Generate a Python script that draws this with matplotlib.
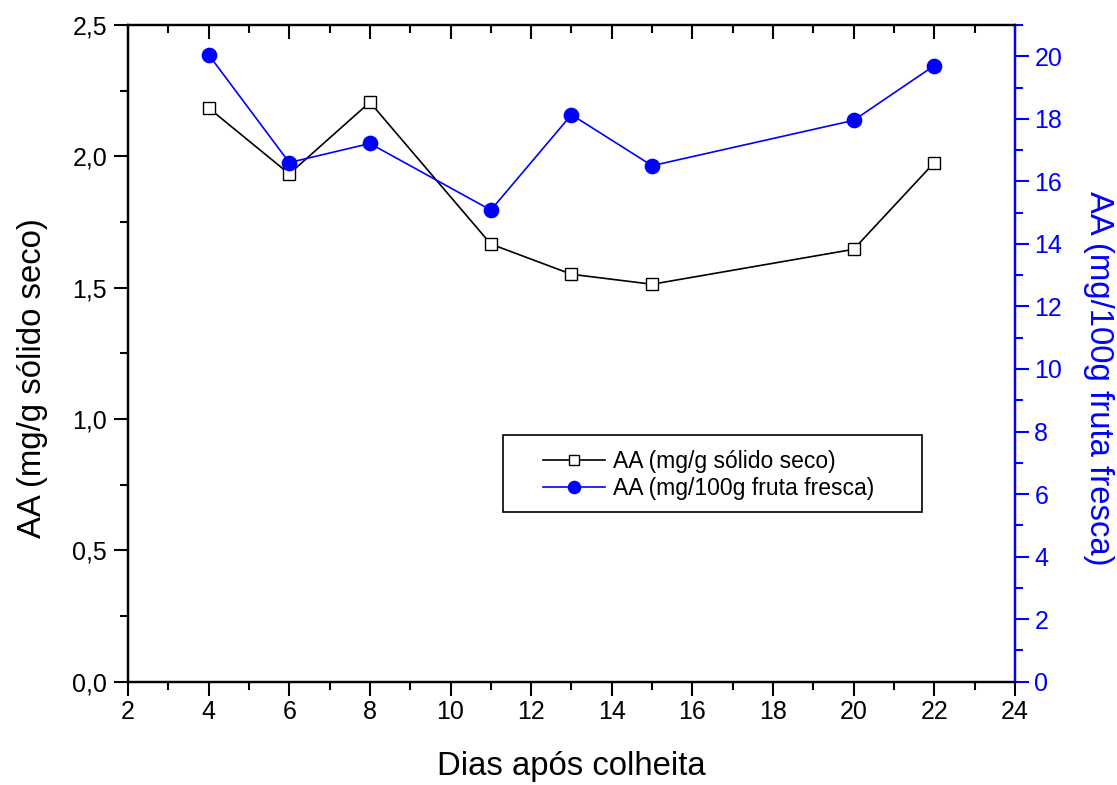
import matplotlib
matplotlib.use("Agg")
from matplotlib import pyplot as plt
from matplotlib.patches import Rectangle
from matplotlib.ticker import MultipleLocator, FuncFormatter

plt.rcParams['font.family'] = ['Liberation Sans', 'DejaVu Sans']

dias = [4, 6, 8, 11, 13, 15, 20, 22]
aa_seco = [2.184, 1.933, 2.206, 1.666, 1.551, 1.513, 1.646, 1.976]
aa_fresca = [20.05, 16.60, 17.21, 15.08, 18.13, 16.50, 17.95, 19.70]

label_seco = "AA (mg/g sólido seco)"
label_fresca = "AA (mg/100g fruta fresca)"

fig = plt.figure(figsize=(11.17, 7.85), dpi=100)
ax = fig.add_axes([0.1146, 0.1316, 0.794, 0.8366])
ax2 = ax.twinx()

l1, = ax.plot(dias, aa_seco, '-s', color='black', lw=1.2, ms=9,
              mfc='white', mec='black', mew=1.0, label=label_seco)
l2, = ax2.plot(dias, aa_fresca, '-o', color='blue', lw=1.2, ms=10.3,
               mfc='blue', mec='blue', label=label_fresca)

ax.set_xlim(2, 24)
ax.set_ylim(0, 2.5)
ax2.set_ylim(0, 21)

ax.xaxis.set_major_locator(MultipleLocator(2))
ax.xaxis.set_minor_locator(MultipleLocator(1))
ax.yaxis.set_major_locator(MultipleLocator(0.5))
ax.yaxis.set_minor_locator(MultipleLocator(0.25))
ax.yaxis.set_major_formatter(FuncFormatter(lambda v, p: f"{v:.1f}".replace('.', ',')))
ax2.yaxis.set_major_locator(MultipleLocator(2))
ax2.yaxis.set_minor_locator(MultipleLocator(1))

for s in ax.spines.values():
    s.set_linewidth(1.6)
for s in ax2.spines.values():
    s.set_linewidth(1.6)
ax2.spines['right'].set_color('blue')

ax.tick_params(axis='both', which='both', direction='out', width=1.5, labelsize=18)
ax.tick_params(axis='both', which='major', length=10)
ax.tick_params(axis='both', which='minor', length=5.5)
ax.tick_params(axis='y', which='major', pad=5)
ax.tick_params(axis='x', which='both', top=True)
ax2.tick_params(axis='y', which='both', direction='out', width=1.5, colors='blue', labelsize=18)
ax2.tick_params(axis='y', which='major', length=10, pad=4)
ax2.tick_params(axis='y', which='minor', length=5.5)

# top ticks point inward
for t in ax.xaxis.get_major_ticks() + ax.xaxis.get_minor_ticks():
    t.tick2line.set_marker(3)

ax.set_xlabel("Dias após colheita", fontsize=23.7)
ax.xaxis.set_label_coords(0.5, -0.105)
ax.set_ylabel(label_seco, fontsize=23.7)
ax.yaxis.set_label_coords(-0.090, 0.462)
ax2.set_ylabel(label_fresca, fontsize=23.7, color='blue', rotation=270, labelpad=37)
ax2.yaxis.label.set_y(0.462)

# legend frame drawn separately so the padding matches the original box
ax2.add_patch(Rectangle((0.4224, 0.2584), 0.4726, 0.1173, transform=ax2.transAxes,
                        facecolor='white', edgecolor='black', lw=1.2, zorder=4))
leg = ax2.legend([l1, l2], [label_seco, label_fresca], loc='center left',
                 bbox_to_anchor=(0.468, 0.3147), fontsize=16.5, frameon=False,
                 handlelength=2.7, handletextpad=0.35, borderpad=0, borderaxespad=0,
                 labelspacing=0.15, markerscale=0.85)
leg.set_zorder(5)

fig.savefig("out.png", dpi=100)
